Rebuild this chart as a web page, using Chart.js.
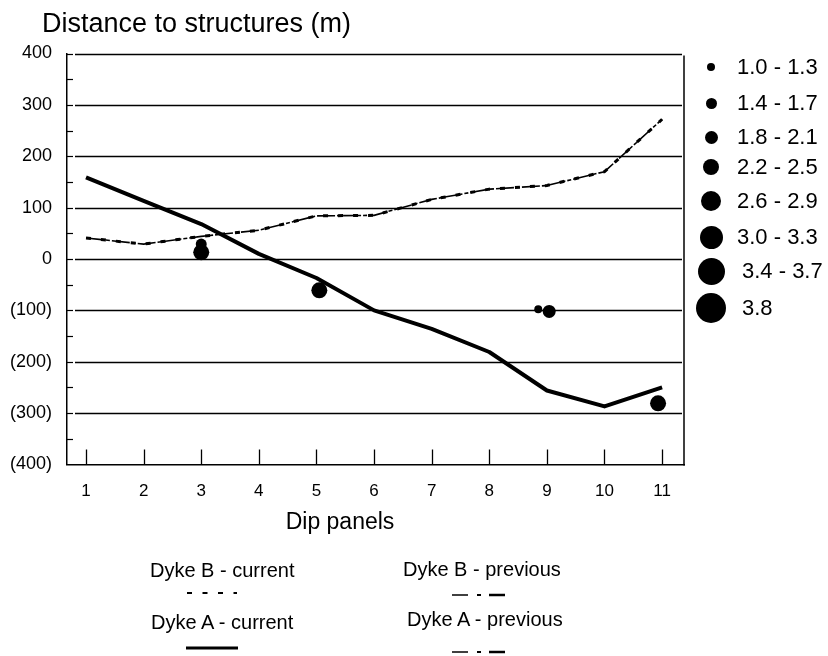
<!DOCTYPE html>
<html>
<head>
<meta charset="utf-8">
<script src="https://cdn.jsdelivr.net/npm/chart.js@4.4.1/dist/chart.umd.min.js"></script>
<style>
  body { margin: 0; background: #fff; }
  #wrap { position: relative; width: 828px; height: 656px; overflow: hidden;
          font-family: "Liberation Sans", Arial, sans-serif; color: #000; }
  #chart { position: absolute; left: 0; top: 0; }
  .t { position: absolute; white-space: nowrap; line-height: 1; }
  .dot { position: absolute; background: #000; border-radius: 50%; }
  svg.sample { position: absolute; left: 0; top: 0; overflow: visible; }
</style>
</head>
<body>
<div id="wrap">
  <canvas id="chart" width="828" height="656"></canvas>
  <div class="t" style="left:42px;top:10px;font-size:27px;">Distance to structures (m)</div>
  <div class="t" style="left:240px;top:510px;width:200px;text-align:center;font-size:23px;">Dip panels</div>
  <div class="t" style="left:150px;top:560px;font-size:20px;">Dyke B - current</div>
  <div class="t" style="left:151px;top:612px;font-size:20px;">Dyke A - current</div>
  <div class="t" style="left:403px;top:559px;font-size:20px;">Dyke B - previous</div>
  <div class="t" style="left:407px;top:609px;font-size:20px;">Dyke A - previous</div>
  <svg class="sample" width="828" height="656">
    <!-- Dyke B - current: short dashes -->
    <line x1="187" y1="593" x2="237" y2="593" stroke="#000" stroke-width="2" stroke-dasharray="5 10.5"/>
    <!-- Dyke A - current: solid -->
    <line x1="186" y1="648" x2="238" y2="648" stroke="#000" stroke-width="3"/>
    <!-- previous: long-short-long -->
    <line x1="452" y1="595" x2="468" y2="595" stroke="#000" stroke-width="1.5"/>
    <line x1="477" y1="595" x2="481" y2="595" stroke="#000" stroke-width="2"/>
    <line x1="489" y1="595" x2="505" y2="595" stroke="#000" stroke-width="2.5"/>
    <line x1="452" y1="652" x2="468" y2="652" stroke="#000" stroke-width="1.5"/>
    <line x1="477" y1="652" x2="481" y2="652" stroke="#000" stroke-width="2"/>
    <line x1="489" y1="652" x2="505" y2="652" stroke="#000" stroke-width="2.5"/>
  </svg>
  <div id="sizeKey"></div>
</div>
<script>
// Dip panel numbers along the x axis
const panels = [1, 2, 3, 4, 5, 6, 7, 8, 9, 10, 11];

// Distance to structures (m) per dip panel
const dykeACurrent  = [159, 113, 68, 10, -37, -100, -136, -181, -256, -287, -250];
const dykeBCurrent  = [41, 29, 44, 56, 84, 85, 116, 136, 143, 170, 272];
const dykeBPrevious = [41, 29, 44, 56, 84, 85, 116, 136, 143, 170, 272];

// Seismic events: panel position, distance (m) and magnitude
const eventPanel     = [3, 3, 5.05, 8.85, 9.04, 10.93];
const eventDistance  = [29, 13, -61, -98, -102, -281];
const eventMagnitude = [1.5, 2.4, 2.4, 1.2, 1.9, 2.4];

// Magnitude classes shown in the size key
const magnitudeClassLabels = ['1.0 - 1.3', '1.4 - 1.7', '1.8 - 2.1', '2.2 - 2.5',
                              '2.6 - 2.9', '3.0 - 3.3', '3.4 - 3.7', '3.8'];
const magnitudeClassLower  = [1.0, 1.4, 1.8, 2.2, 2.6, 3.0, 3.4, 3.8];

// y-axis tick values (m)
const distanceTicks = [400, 300, 200, 100, 0, -100, -200, -300, -400];

// Bubble radius (px) for each magnitude class
const classRadius = [4, 5.5, 6.5, 8, 10, 11.5, 13.5, 15];
function classOf(m) {
  let k = 0;
  magnitudeClassLower.forEach((lo, i) => { if (m >= lo - 1e-9) k = i; });
  return k;
}

const FONT = '"Liberation Sans", Arial, sans-serif';
const toXY = (ys) => panels.map((p, i) => ({ x: p, y: ys[i] }));
const fmtDistance = (v) => v < 0 ? '(' + (-v) + ')' : String(v);

// Frame, gridlines and inner tick marks drawn from the scales
const framePlugin = {
  id: 'frame',
  beforeDatasetsDraw(chart) {
    const { ctx, chartArea: a, scales: { x, y } } = chart;
    ctx.save();
    ctx.strokeStyle = '#000';
    // horizontal gridlines at every labelled distance
    ctx.lineWidth = 1.4;
    distanceTicks.forEach(v => {
      if (v === distanceTicks[distanceTicks.length - 1]) return;
      const py = Math.round(y.getPixelForValue(v)) + 0.5;
      ctx.beginPath(); ctx.moveTo(a.left + 8, py); ctx.lineTo(a.right - 2, py); ctx.stroke();
    });
    // inner tick marks on the left axis every 50 m
    ctx.lineWidth = 1.2;
    for (let v = y.min + 50; v <= y.max; v += 50) {
      const py = Math.round(y.getPixelForValue(v)) + 0.5;
      ctx.beginPath(); ctx.moveTo(a.left, py); ctx.lineTo(a.left + 6, py); ctx.stroke();
    }
    // upward tick marks at each panel
    ctx.lineWidth = 1.3;
    panels.forEach(p => {
      const px = Math.round(x.getPixelForValue(p)) + 0.5;
      ctx.beginPath(); ctx.moveTo(px, a.bottom); ctx.lineTo(px, a.bottom - 15); ctx.stroke();
    });
    // right-hand frame line
    ctx.lineWidth = 1.5;
    ctx.beginPath(); ctx.moveTo(a.right, a.top + 2); ctx.lineTo(a.right, a.bottom + 1); ctx.stroke();
    ctx.restore();
  }
};

new Chart(document.getElementById('chart'), {
  type: 'line',
  data: {
    datasets: [
      {
        type: 'bubble',
        label: 'Events',
        data: eventPanel.map((p, i) => ({ x: p, y: eventDistance[i], r: classRadius[classOf(eventMagnitude[i])] })),
        backgroundColor: '#000',
        borderWidth: 0,
        hoverRadius: 0
      },
      {
        label: 'Dyke A - current',
        data: toXY(dykeACurrent),
        borderColor: '#000',
        borderWidth: 4,
        pointRadius: 0,
        tension: 0,
        borderJoinStyle: 'round'
      },
      {
        label: 'Dyke B - current',
        data: toXY(dykeBCurrent),
        borderColor: '#000',
        borderWidth: 3,
        borderDash: [5, 10],
        pointRadius: 0,
        tension: 0
      },
      {
        label: 'Dyke B - previous',
        data: toXY(dykeBPrevious),
        borderColor: '#000',
        borderWidth: 1.6,
        borderDash: [18, 2, 4, 2],
        pointRadius: 0,
        tension: 0
      }
    ]
  },
  options: {
    responsive: false,
    animation: false,
    devicePixelRatio: 1,
    layout: { padding: { left: 0, top: 53.5, right: 144, bottom: 151.5 } },
    plugins: { legend: { display: false }, tooltip: { enabled: false }, title: { display: false } },
    scales: {
      x: {
        type: 'linear',
        min: 0.67,
        max: 11.38,
        afterFit(s) { s.height = 40; },
        grid: { display: false, drawTicks: false },
        border: { display: true, color: '#000', width: 1.5 },
        ticks: {
          stepSize: 1,
          includeBounds: false,
          padding: 17,
          color: '#000',
          font: { family: FONT, size: 17 },
          callback: (v) => panels.includes(v) ? String(v) : ''
        }
      },
      y: {
        min: -400,
        max: 400,
        afterFit(s) { s.width = 67; },
        grid: { display: false, drawTicks: false },
        border: { display: true, color: '#000', width: 1.5 },
        ticks: {
          stepSize: 100,
          padding: 15,
          color: '#000',
          font: { family: FONT, size: 18 },
          callback: (v) => distanceTicks.includes(v) ? fmtDistance(v) : ''
        }
      }
    }
  },
  plugins: [framePlugin]
});

// Magnitude size key to the right of the plot
const key = document.getElementById('sizeKey');
const keyCentres = [67, 103, 137, 167, 201, 237, 271, 308];
magnitudeClassLabels.forEach((lab, i) => {
  const r = classRadius[i];
  const cy = keyCentres[i];
  const d = document.createElement('div');
  d.className = 'dot';
  d.style.cssText = `left:${711 - r}px;top:${cy - r}px;width:${2 * r}px;height:${2 * r}px;`;
  key.appendChild(d);
  const t = document.createElement('div');
  t.className = 't';
  t.style.cssText = `left:${i >= 6 ? 742 : 737}px;top:${cy - 10.7}px;font-size:22px;`;
  t.textContent = lab;
  key.appendChild(t);
});
</script>
</body>
</html>
